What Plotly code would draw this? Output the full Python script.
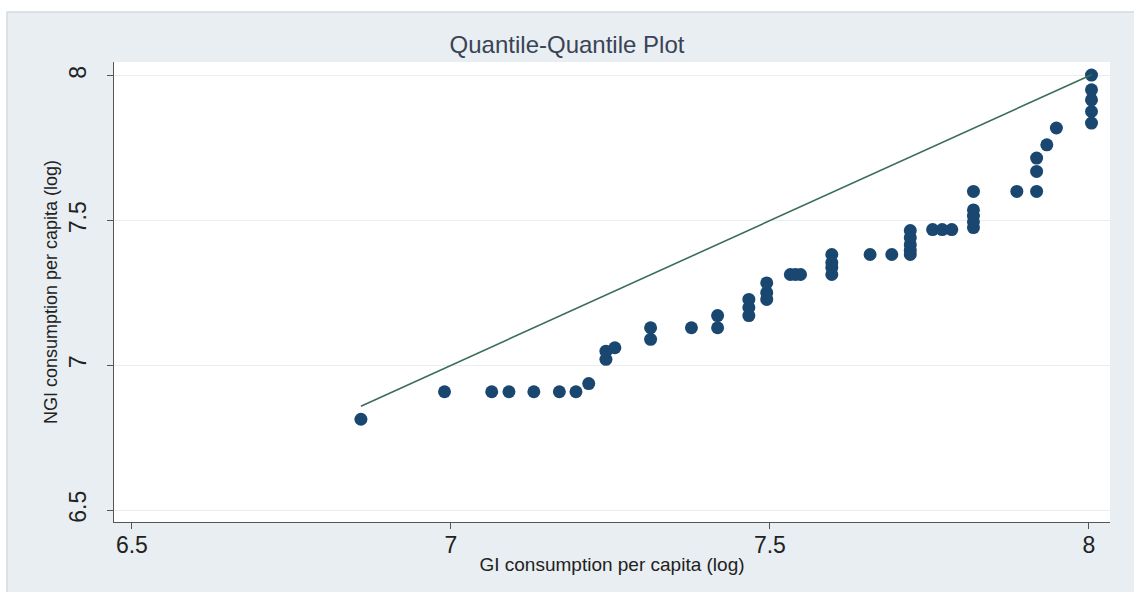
import plotly.graph_objects as go

# Sorted quantiles of log per-capita consumption (GI on x, NGI on y)
gi_quantiles = [
    6.859, 6.990, 7.064, 7.091, 7.130, 7.170, 7.196, 7.216,
    7.243, 7.243, 7.257, 7.313, 7.313, 7.377, 7.418, 7.418,
    7.467, 7.467, 7.467, 7.495, 7.495, 7.495,
    7.532, 7.540, 7.548, 7.597, 7.597, 7.597, 7.597,
    7.657, 7.691, 7.720, 7.720, 7.720, 7.720, 7.720,
    7.755, 7.770, 7.785, 7.819, 7.819, 7.819, 7.819, 7.819,
    7.887, 7.918, 7.918, 7.918, 7.934, 7.949,
    8.004, 8.004, 8.004, 8.004, 8.004,
]
ngi_quantiles = [
    6.814, 6.909, 6.909, 6.909, 6.909, 6.909, 6.909, 6.937,
    7.021, 7.049, 7.061, 7.090, 7.130, 7.130, 7.130, 7.172,
    7.172, 7.200, 7.228, 7.228, 7.251, 7.285,
    7.314, 7.314, 7.314, 7.314, 7.338, 7.355, 7.383,
    7.383, 7.383, 7.383, 7.397, 7.417, 7.441, 7.466,
    7.469, 7.469, 7.469, 7.476, 7.496, 7.516, 7.537, 7.601,
    7.601, 7.601, 7.670, 7.716, 7.762, 7.820,
    7.837, 7.877, 7.917, 7.952, 8.003,
]

x_ticks = [6.5, 7, 7.5, 8]
x_tick_labels = ["6.5", "7", "7.5", "8"]
y_ticks = [6.5, 7, 7.5, 8]
y_tick_labels = ["6.5", "7", "7.5", "8"]

FONT = "Liberation Sans, Arial, sans-serif"
NAVY = "#1a476f"
LINE_GREEN = "#3b6e56"
REGION = "#e8eef1"

# 45-degree reference line across the range of the data
ref_hi = max(max(gi_quantiles), max(ngi_quantiles))

fig = go.Figure()
fig.add_trace(go.Scatter(
    x=gi_quantiles, y=ngi_quantiles, mode="markers",
    marker=dict(color=NAVY, size=13, line=dict(width=0)),
    showlegend=False, hoverinfo="x+y",
))
fig.add_trace(go.Scatter(
    x=[gi_quantiles[0], ref_hi], y=[gi_quantiles[0], ref_hi], mode="lines",
    line=dict(color=LINE_GREEN, width=1.6),
    showlegend=False, hoverinfo="skip",
))

W, H = 1134, 592
ml, mr, mt, mb = 114, 24, 62, 70
pw, ph = W - ml - mr, H - mt - mb


def px_to_paper_x(px):
    return (px - ml) / pw


def px_to_paper_y(py):
    return (H - mb - py) / ph


# graph region backdrop with white strip at top and left edge
fig.add_shape(type="rect", xref="paper", yref="paper", layer="below",
              x0=px_to_paper_x(0), x1=px_to_paper_x(W),
              y0=px_to_paper_y(H), y1=px_to_paper_y(0),
              fillcolor="white", line=dict(width=0))
fig.add_shape(type="rect", xref="paper", yref="paper", layer="below",
              x0=px_to_paper_x(7), x1=px_to_paper_x(W + 2),
              y0=px_to_paper_y(H + 2), y1=px_to_paper_y(12),
              fillcolor=REGION, line=dict(color="#d6dadc", width=1.5))
fig.add_shape(type="rect", xref="paper", yref="paper", layer="below",
              x0=0, x1=1, y0=0, y1=1,
              fillcolor="white", line=dict(width=0))

fig.update_layout(
    width=W, height=H,
    margin=dict(l=ml, r=mr, t=mt, b=mb, pad=0),
    paper_bgcolor="white",
    plot_bgcolor="rgba(0,0,0,0)",
    font=dict(family=FONT, color="#222222"),
    title=dict(text="Quantile-Quantile Plot", x=0.5, xanchor="center",
               y=1 - 45 / H, yanchor="middle",
               font=dict(size=24, color="#3a4356", family=FONT)),
    xaxis=dict(
        range=[6.472, 8.033], tickvals=x_ticks, ticktext=x_tick_labels,
        showgrid=False, zeroline=False,
        showline=True, linecolor="#555555", linewidth=1.3,
        ticks="outside", ticklen=6, tickcolor="#555555", tickwidth=1.3,
        ticklabelstandoff=-4,
        tickfont=dict(size=23, color="#222222"),
        title=dict(text="GI consumption per capita (log)", standoff=0,
                   font=dict(size=19, color="#222222")),
    ),
    yaxis=dict(
        range=[6.459, 8.048], tickvals=y_ticks, ticktext=y_tick_labels,
        showgrid=True, gridcolor="#e9eff1", gridwidth=1.2, zeroline=False,
        showline=True, linecolor="#555555", linewidth=1.3,
        ticks="outside", ticklen=6, tickcolor="#555555", tickwidth=1.3,
        tickangle=-90, ticklabelstandoff=12,
        tickfont=dict(size=23, color="#222222"),
        title=dict(text="NGI consumption per capita (log)", standoff=2,
                   font=dict(size=18, color="#222222")),
    ),
)

fig.write_html("out.html")
